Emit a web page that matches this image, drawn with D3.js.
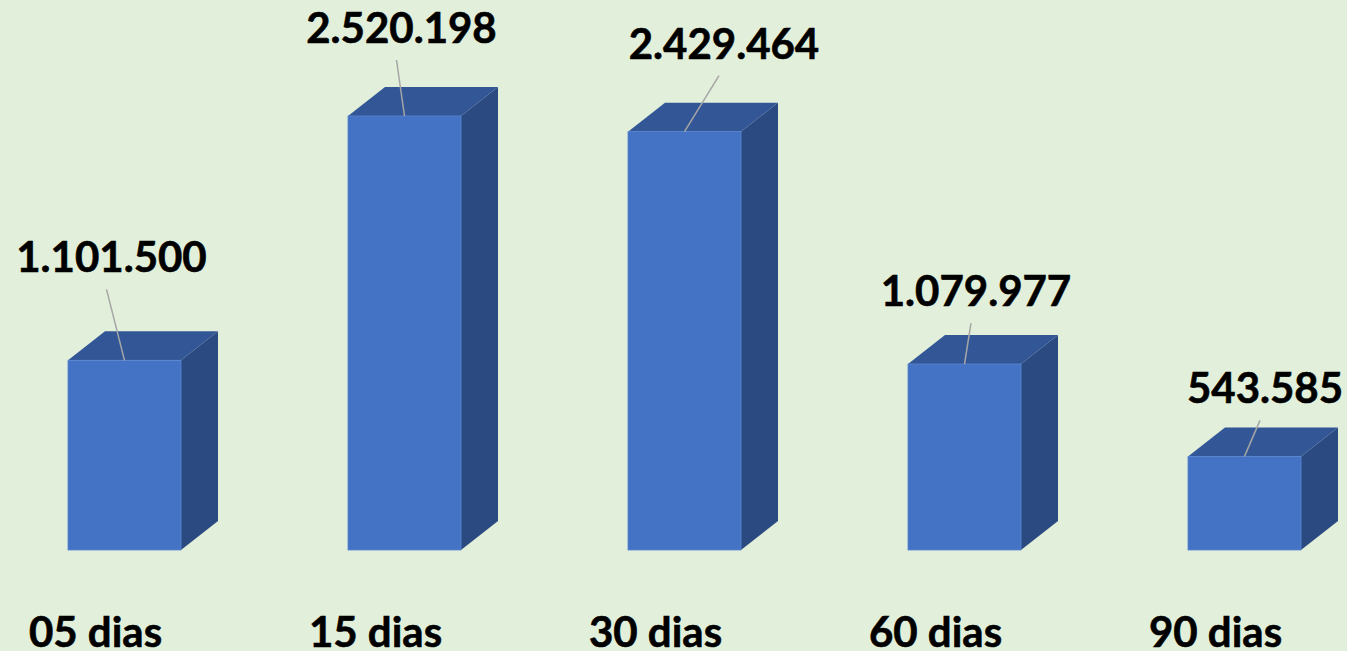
<!DOCTYPE html>
<html>
<head>
<meta charset="utf-8">
<script src="https://cdn.jsdelivr.net/npm/d3@7"></script>
<style>
  html, body { margin: 0; padding: 0; background: #e2efda; overflow: hidden; }
  text { font-family: Lato, "Open Sans", sans-serif; font-weight: bold; fill: #000; stroke: #000; stroke-width: 0.6px; }
</style>
</head>
<body>
<div id="chart"></div>
<script>
// ***Data***
var categories = ["05 dias", "15 dias", "30 dias", "60 dias", "90 dias"];
var values = [1101500, 2520198, 2429464, 1079977, 543585];
var valueLabels = ["1.101.500", "2.520.198", "2.429.464", "1.079.977", "543.585"];

// ***Layout***
var w = 1347, h = 651;
var baseY = 550;
var depthX = 37, depthY = 29;
// hand-placed data label offsets (from front-top centre of each bar)
var labelNudge = [[-13, -88], [-3, -73], [39.5, -73], [11.5, -58], [20.5, -53]];

var xScale = d3.scaleBand()
  .domain(categories)
  .range([-15.5, 1384.5])
  .paddingInner(0.5964)
  .paddingOuter(0.2982);

var yScale = d3.scaleLinear()
  .domain([0, 2520198])
  .range([baseY, 116]);

var svg = d3.select("#chart").append("svg")
  .attr("width", w)
  .attr("height", h);

svg.append("rect").attr("width", w).attr("height", h).attr("fill", "#e2efda");

var bars = svg.selectAll("g.bar")
  .data(values)
  .enter()
  .append("g")
  .attr("class", "bar");

function x0(i) { return xScale(categories[i]); }
function x1(i) { return xScale(categories[i]) + xScale.bandwidth(); }

// side face
bars.append("path")
  .attr("d", function(d, i) {
    var y = yScale(d);
    return "M" + x1(i) + "," + y + "L" + (x1(i) + depthX) + "," + (y - depthY) +
      "L" + (x1(i) + depthX) + "," + (baseY - depthY) + "L" + x1(i) + "," + baseY + "Z";
  })
  .attr("fill", "#2b4a81");

// top face
bars.append("path")
  .attr("d", function(d, i) {
    var y = yScale(d);
    return "M" + x0(i) + "," + y + "L" + (x0(i) + depthX) + "," + (y - depthY) +
      "L" + (x1(i) + depthX) + "," + (y - depthY) + "L" + x1(i) + "," + y + "Z";
  })
  .attr("fill", "#335796");

// front face
bars.append("rect")
  .attr("x", function(d, i) { return x0(i); })
  .attr("y", function(d) { return yScale(d); })
  .attr("width", xScale.bandwidth())
  .attr("height", function(d) { return baseY - yScale(d); })
  .attr("fill", "#4472c4")
  .attr("stroke", "#5a86d0")
  .attr("stroke-width", 0.8);

// leader lines
bars.append("line")
  .attr("x1", function(d, i) { return x0(i) + xScale.bandwidth() / 2 + labelNudge[i][0] - 5; })
  .attr("y1", function(d, i) { return yScale(d) + labelNudge[i][1] + 17; })
  .attr("x2", function(d, i) { return x0(i) + xScale.bandwidth() / 2; })
  .attr("y2", function(d) { return yScale(d); })
  .attr("stroke", "#a6a6a6")
  .attr("stroke-width", 1.5);

// value labels
bars.append("text")
  .attr("x", function(d, i) { return x0(i) + xScale.bandwidth() / 2 + labelNudge[i][0]; })
  .attr("y", function(d, i) { return yScale(d) + labelNudge[i][1]; })
  .attr("text-anchor", "middle")
  .style("font-size", "42px")
  .text(function(d, i) { return valueLabels[i]; });

// category labels
svg.selectAll("text.cat")
  .data(categories)
  .enter()
  .append("text")
  .attr("class", "cat")
  .attr("x", function(d) { return xScale(d) + xScale.bandwidth() / 2 - 29; })
  .attr("y", 647)
  .attr("text-anchor", "middle")
  .style("font-size", "42px")
  .text(function(d) { return d; });
</script>
</body>
</html>
